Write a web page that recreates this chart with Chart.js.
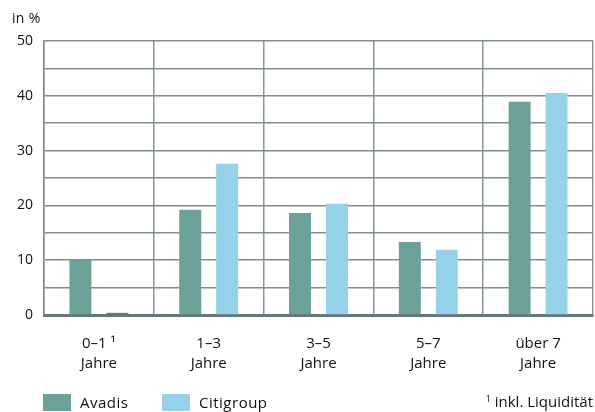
<!DOCTYPE html>
<html>
<head>
<meta charset="utf-8">
<script src="https://cdn.jsdelivr.net/npm/chart.js@4"></script>
<style>
  html, body { margin:0; padding:0; background:#fff; }
  #wrap { position:relative; width:595px; height:412px; font-family:"Open Sans", sans-serif; color:#111; }
  canvas { position:absolute; left:0; top:0; }
  .unit { position:absolute; left:12px; top:8px; font-size:14px; letter-spacing:0.3px; }
  .leg { position:absolute; top:394px; font-size:15px; line-height:17px; display:flex; align-items:center; letter-spacing:0.5px; }
  .box { width:28px; height:17px; margin-right:9px; }
  .foot { position:absolute; right:2px; top:390px; font-size:15px; line-height:18px; }
  .foot sup { font-size:9px; vertical-align: 5px; }
</style>
</head>
<body>
<div id="wrap">
  <canvas id="c" width="595" height="412"></canvas>
  <div class="unit">in %</div>
  <div class="leg" style="left:43px"><div class="box" style="background:#6ca19a"></div>Avadis</div>
  <div class="leg" style="left:162px"><div class="box" style="background:#95d2e9"></div>Citigroup</div>
  <div class="foot"><sup>1</sup> inkl. Liquidität</div>
</div>
<script>
const categories = [["0–1 ¹", "Jahre"], ["1–3", "Jahre"], ["3–5", "Jahre"], ["5–7", "Jahre"], ["über 7", "Jahre"]];
const avadis = [10.1, 19.2, 18.6, 13.3, 38.9];
const citigroup = [0.4, 27.6, 20.3, 11.9, 40.5];
const yTickLabels = [0, 10, 20, 30, 40, 50];

new Chart(document.getElementById('c'), {
  type: 'bar',
  data: {
    labels: categories,
    datasets: [
      { label: 'Avadis', data: avadis, backgroundColor: '#6ca19a', categoryPercentage: 0.673, barPercentage: 0.595 },
      { label: 'Citigroup', data: citigroup, backgroundColor: ['#66797b', '#95d2e9', '#95d2e9', '#95d2e9', '#95d2e9'], categoryPercentage: 0.673, barPercentage: 0.595 }
    ]
  },
  options: {
    responsive: false,
    animation: false,
    layout: { padding: { top: 41, right: 2, left: 0, bottom: 0 } },
    plugins: { legend: { display: false }, tooltip: { enabled: false } },
    scales: {
      x: {
        grid: { offset: true, color: '#8a9799', lineWidth: 1.5, drawTicks: false },
        border: { color: '#66767a', width: 3 },
        ticks: { color: '#111', font: { family: 'Open Sans', size: 15, lineHeight: 1.3 }, padding: 19, maxRotation: 0 },
        afterFit: (s) => { s.height = 97; }
      },
      y: {
        min: 0, max: 50,
        grid: { color: '#7f8e90', lineWidth: 1.5, drawTicks: false },
        border: { color: '#7f8e90', width: 1.5 },
        ticks: {
          stepSize: 5, padding: 11, color: '#111', font: { family: 'Open Sans', size: 14 },
          callback: (v) => yTickLabels.includes(v) ? String(v) : ''
        },
        afterFit: (s) => { s.width = 44; }
      }
    }
  }
});
</script>
</body>
</html>
